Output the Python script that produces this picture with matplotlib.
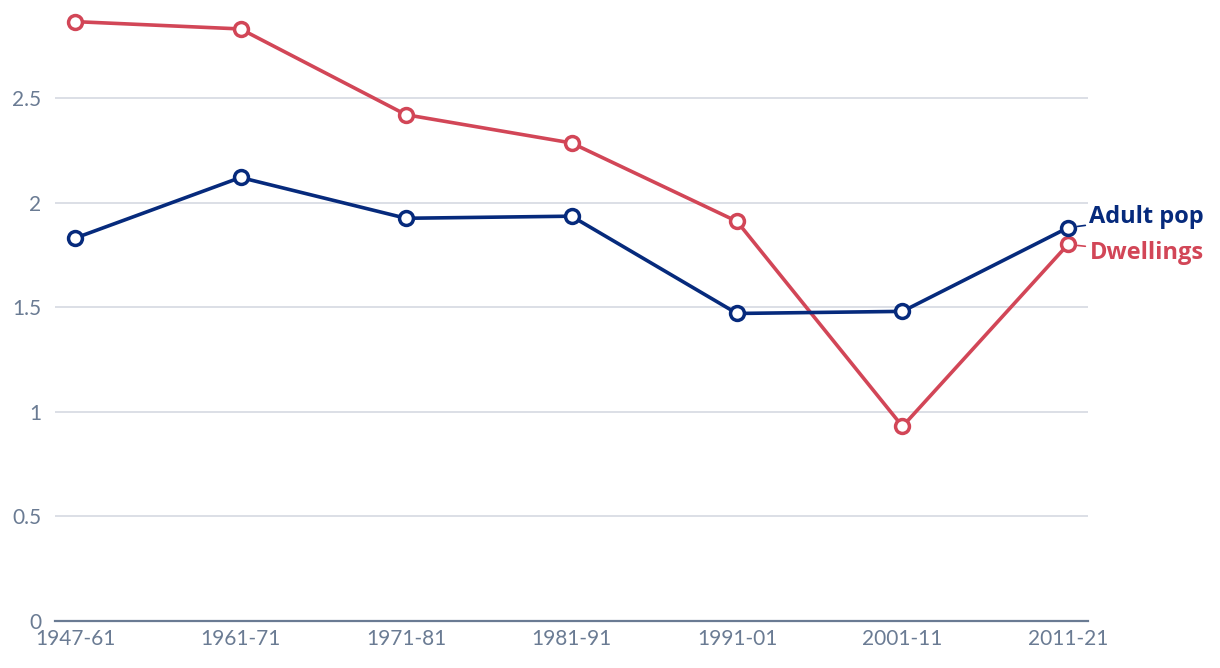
import matplotlib.pyplot as plt

periods = ["1947-61", "1961-71", "1971-81", "1981-91", "1991-01", "2001-11", "2011-21"]
adult_pop = [1.83, 2.12, 1.925, 1.935, 1.47, 1.48, 1.88]
dwellings = [2.865, 2.83, 2.42, 2.285, 1.91, 0.93, 1.80]
yticks = [0, 0.5, 1, 1.5, 2, 2.5]
ytick_labels = ["0", "0.5", "1", "1.5", "2", "2.5"]

navy = "#062a7c"
red = "#d24657"
grey = "#6a7b93"

plt.rcParams['font.family'] = ['Lato', 'DejaVu Sans']

fig = plt.figure(figsize=(12.2, 6.68), dpi=100)
ax = fig.add_axes([55 / 1220, 1 - 621 / 668, (1088 - 55) / 1220, (621 - 14.3) / 668])

x = list(range(len(periods)))
ax.plot(x, dwellings, color=red, lw=2.6, marker="o", ms=10, mfc="white",
        mec=red, mew=2.5, zorder=3, clip_on=False)
ax.plot(x, adult_pop, color=navy, lw=2.6, marker="o", ms=10, mfc="white",
        mec=navy, mew=2.5, zorder=4, clip_on=False)

ax.set_xlim(-0.121, 6.121)
ax.set_ylim(0, 2.9)
ax.set_yticks(yticks)
ax.set_yticklabels(ytick_labels)
ax.set_xticks(x)
ax.set_xticklabels(periods)
ax.grid(axis="y", color="#d5d9e2", lw=1.2)
ax.set_axisbelow(True)
for s in ["top", "right", "left"]:
    ax.spines[s].set_visible(False)
ax.spines["bottom"].set_color(grey)
ax.spines["bottom"].set_linewidth(1.6)
ax.tick_params(axis="both", length=0, colors=grey, labelsize=15)
ax.tick_params(axis="x", pad=6)
ax.tick_params(axis="y", pad=10)

# end labels
ax.annotate("Adult pop", xy=(6, adult_pop[-1]), xytext=(6.13, 1.93),
            color=navy, fontsize=17, fontweight="bold", va="center", ha="left",
            family=["Open Sans", "DejaVu Sans"], annotation_clip=False,
            arrowprops=dict(arrowstyle="-", color=navy, lw=1.2, shrinkA=1, shrinkB=7))
ax.annotate("Dwellings", xy=(6, dwellings[-1]), xytext=(6.13, 1.76),
            color=red, fontsize=17, fontweight="bold", va="center", ha="left",
            family=["Open Sans", "DejaVu Sans"], annotation_clip=False,
            arrowprops=dict(arrowstyle="-", color=red, lw=1.2, shrinkA=1, shrinkB=7))

fig.savefig("out.png", dpi=100)
